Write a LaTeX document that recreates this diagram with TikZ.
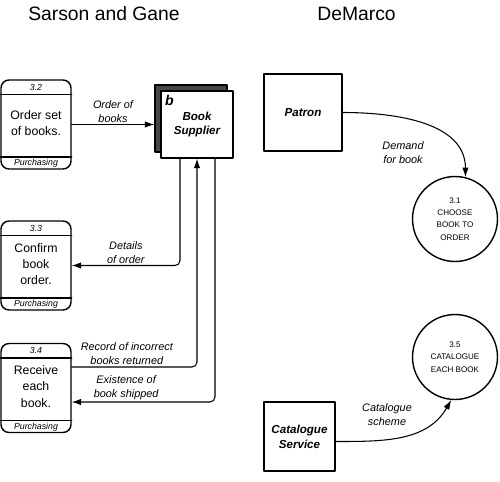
\documentclass[tikz,border=0pt]{standalone}
\usepackage{fontspec}
\setmainfont{Liberation Sans}
\usetikzlibrary{arrows.meta,shadows}

\begin{document}
\begin{tikzpicture}[x=0.02cm,y=0.02cm,line cap=round,line join=round,
  >={Latex[length=1.9mm,width=1.3mm]},every node/.style={inner sep=1pt},
  title/.style={font=\fontsize{11}{13}\selectfont},
  proc/.style={draw,line width=0.8pt,rounded corners=0.16cm,minimum width=1.4cm,minimum height=1.78cm,inner sep=0pt},
  procline/.style={line width=0.8pt},
  proctext/.style={font=\fontsize{7}{9.2}\selectfont,align=center},
  procsmall/.style={font=\fontsize{5}{6}\selectfont\itshape},
  ent/.style={draw,line width=0.8pt,fill=white,align=center,font=\fontsize{6.6}{8.5}\selectfont\bfseries\itshape},
  bubble/.style={draw,circle,line width=0.8pt,minimum size=1.7cm,inner sep=0pt,align=center,font=\fontsize{4.6}{7}\selectfont},
  flow/.style={->,line width=0.6pt},
  lbl/.style={align=center,font=\fontsize{6.2}{8}\selectfont\itshape}]
  \useasboundingbox (0,0) rectangle (500,481);
  % headings
  \node[title] (sg) at (104,467) {Sarson and Gane};
  \node[title] (dm) at (356.5,467) {DeMarco};
  % Sarson and Gane processes
  \foreach \n/\y/\id/\txt in {p32/356.5/3.2/{Order set\\of books.},p33/215.5/3.3/{Confirm\\book\\order.},p34/93/3.4/{Receive\\each\\book.}} {
    \node[proc] (\n) at (36,\y) {};
    \node[procsmall] (\n id) at ([yshift=-0.16cm]\n.north) {\id};
    \node[procsmall] (\n dept) at ([yshift=0.12cm]\n.south) {Purchasing};
    \node[proctext] (\n txt) at ([yshift=0.03cm]\n.center) {\txt};
    \draw[procline] ([yshift=-0.3cm]\n.north west) -- ([yshift=-0.3cm]\n.north east);
    \draw[procline] ([yshift=0.25cm]\n.south west) -- ([yshift=0.25cm]\n.south east);
  }
  % external entity
  \node[ent,minimum width=1.44cm,minimum height=1.34cm,
    general shadow={fill=black!72,draw=black,shadow xshift=-0.12cm,shadow yshift=0.12cm}]
    (sup) at (197,356.5) {Book\\Supplier};
  \node[ent,draw=none,fill=none,font=\fontsize{8}{9}\selectfont\bfseries\itshape] (supid) at ([shift={(9,-10)}]sup.north west) {b};
  % flows
  \draw[flow] (p32.east) -- ([xshift=-0.12cm]sup.west) node[lbl,above,midway] (l1) {Order of\\books};
  \draw[flow,rounded corners=0.1cm] ([xshift=-0.34cm]sup.south) |- (p33.east)
    node[lbl,above,pos=0.75] (l2) {Details\\of order};
  \draw[flow,rounded corners=0.1cm] ([yshift=0.42cm]p34.east) -| (sup.south)
    node[lbl,above,pos=0.22] (l3) {Record of incorrect\\books returned};
  \draw[flow,rounded corners=0.1cm] ([xshift=0.36cm]sup.south) |- ([yshift=-0.28cm]p34.east)
    node[lbl,above,pos=0.81] (l4) {Existence of\\book shipped};
  % DeMarco
  \node[ent,minimum width=1.56cm,minimum height=1.54cm] (patron) at (303,368.5) {Patron};
  \node[ent,minimum width=1.42cm,minimum height=1.38cm] (catsvc) at (299.5,44.5) {Catalogue\\Service};
  \node[bubble] (c31) at (455,262) {3.1\\CHOOSE\\BOOK TO\\ORDER};
  \node[bubble] (c35) at (455,124) {3.5\\CATALOGUE\\EACH BOOK};
  \draw[flow] (patron.east) to[out=0,in=90] (c31.76);
  \node[lbl] (l5) at (403,328) {Demand\\for book};
  \draw[flow] ([yshift=-0.1cm]catsvc.east) to[out=0,in=240] (c35.265);
  \node[lbl] (l6) at (387,66) {Catalogue\\scheme};
\end{tikzpicture}
\end{document}
